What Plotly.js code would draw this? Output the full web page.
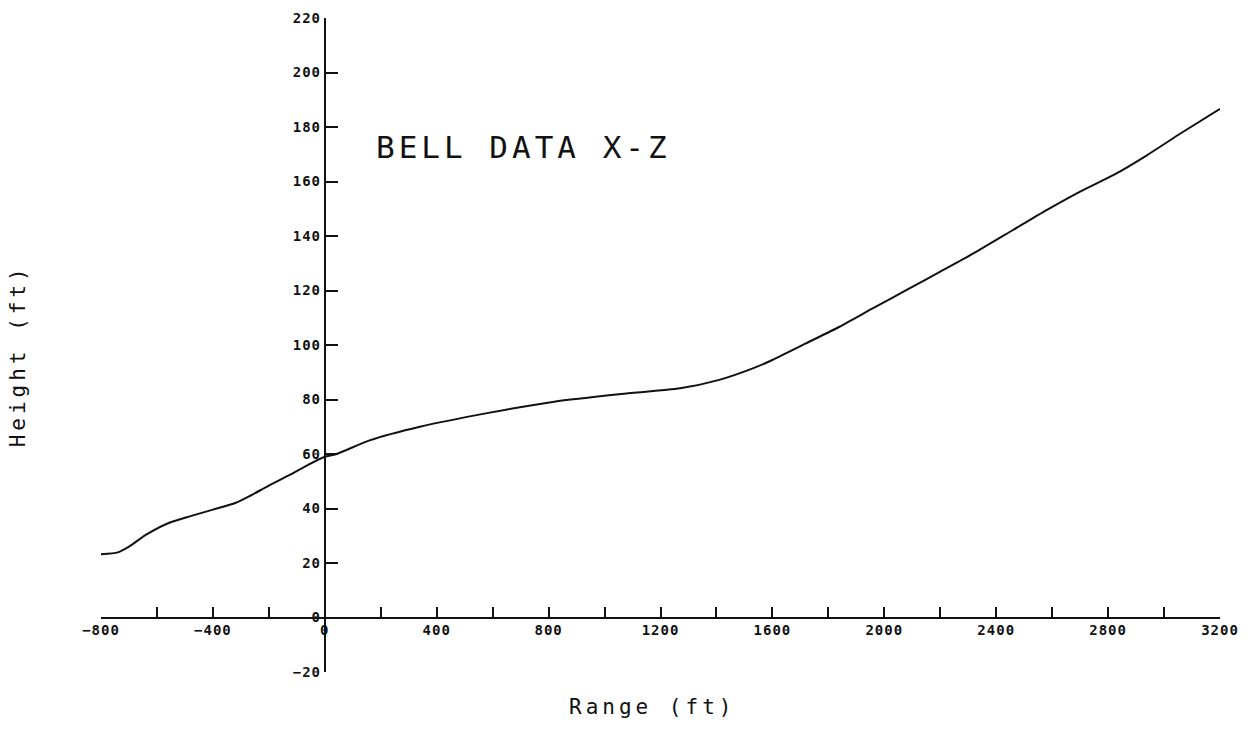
<!DOCTYPE html>
<html>
<head>
<meta charset="utf-8">
<script src="https://cdn.plot.ly/plotly-3.0.1.min.js"></script>
<style>
  html, body { margin: 0; padding: 0; background: #fff; }
  #chart { width: 1248px; height: 732px; }
  .annotation-text { letter-spacing: 4px; }
  .xtick text, .ytick text { letter-spacing: 1px; }
</style>
</head>
<body>
<div id="chart"></div>
<script>
// Range (ft) values
const rangeFt = [-800, -740, -700, -640, -560, -480, -400, -320, -270, -200, -120, -60, 0, 40, 160, 340, 580, 820, 1060, 1270, 1410, 1530, 1600, 1720, 1840, 1960, 2080, 2200, 2320, 2460, 2580, 2700, 2820, 2940, 3060, 3200];
// Height (ft) values
const heightFt = [23.2, 23.9, 26.0, 30.3, 34.6, 37.2, 39.6, 42.0, 44.5, 48.4, 52.6, 56.0, 59.0, 59.9, 65.0, 70.0, 75.0, 79.2, 82.0, 84.1, 87.2, 91.4, 94.5, 100.6, 106.7, 113.5, 120.2, 126.9, 133.7, 142.2, 149.5, 156.3, 162.4, 169.7, 177.7, 186.7];

const xRange = [-800, 3200];
const yRange = [-20, 220];
const xMajorStep = 400;
const xMinorStep = 200;
const yStep = 20;

const chartTitle = "BELL DATA X-Z";
const xTitle = "Range (ft)";
const yTitle = "Height (ft)";

const monoFont = "DejaVu Sans Mono, Liberation Mono, monospace";

const trace = {
  x: rangeFt,
  y: heightFt,
  type: "scatter",
  mode: "lines",
  line: { color: "#111111", width: 2, shape: "spline", smoothing: 0.6 },
  hoverinfo: "x+y",
  showlegend: false
};

// axes cross at the origin
const yAxisPos = (0 - xRange[0]) / (xRange[1] - xRange[0]);
const xAxisPos = (0 - yRange[0]) / (yRange[1] - yRange[0]);

const layout = {
  width: 1248,
  height: 732,
  margin: { l: 101, r: 28, t: 18, b: 60 },
  paper_bgcolor: "#ffffff",
  plot_bgcolor: "#ffffff",
  showlegend: false,
  xaxis: {
    range: xRange,
    anchor: "free",
    position: xAxisPos,
    showline: true,
    linecolor: "#111111",
    linewidth: 2,
    showgrid: false,
    zeroline: false,
    tick0: 0,
    dtick: xMajorStep,
    ticks: "inside",
    ticklen: 10,
    tickwidth: 2,
    tickcolor: "#111111",
    minor: { dtick: xMinorStep, ticks: "inside", ticklen: 10, tickwidth: 2, tickcolor: "#111111", showgrid: false },
    tickfont: { family: monoFont, size: 14, color: "#111111", weight: "bold" },
    fixedrange: true
  },
  yaxis: {
    range: yRange,
    anchor: "free",
    position: yAxisPos,
    showline: true,
    linecolor: "#111111",
    linewidth: 2,
    showgrid: false,
    zeroline: false,
    tick0: 0,
    dtick: yStep,
    ticks: "inside",
    ticklen: 12,
    tickwidth: 2,
    tickcolor: "#111111",
    tickfont: { family: monoFont, size: 14, color: "#111111", weight: "bold" },
    fixedrange: true
  },
  annotations: [
    {
      text: chartTitle,
      xref: "x", yref: "y",
      x: 711, y: 172.7,
      xanchor: "center", yanchor: "middle",
      showarrow: false,
      font: { family: monoFont, size: 31, color: "#111111" }
    },
    {
      text: xTitle,
      xref: "paper", yref: "paper",
      x: 0.492, y: -0.0535,
      xanchor: "center", yanchor: "middle",
      showarrow: false,
      font: { family: monoFont, size: 21, color: "#111111" }
    },
    {
      text: yTitle,
      xref: "paper", yref: "paper",
      x: -0.074, y: 0.483,
      xanchor: "center", yanchor: "middle",
      textangle: -90,
      showarrow: false,
      font: { family: monoFont, size: 21, color: "#111111" }
    }
  ]
};

Plotly.newPlot("chart", [trace], layout, { displayModeBar: false, staticPlot: true });
</script>
</body>
</html>
